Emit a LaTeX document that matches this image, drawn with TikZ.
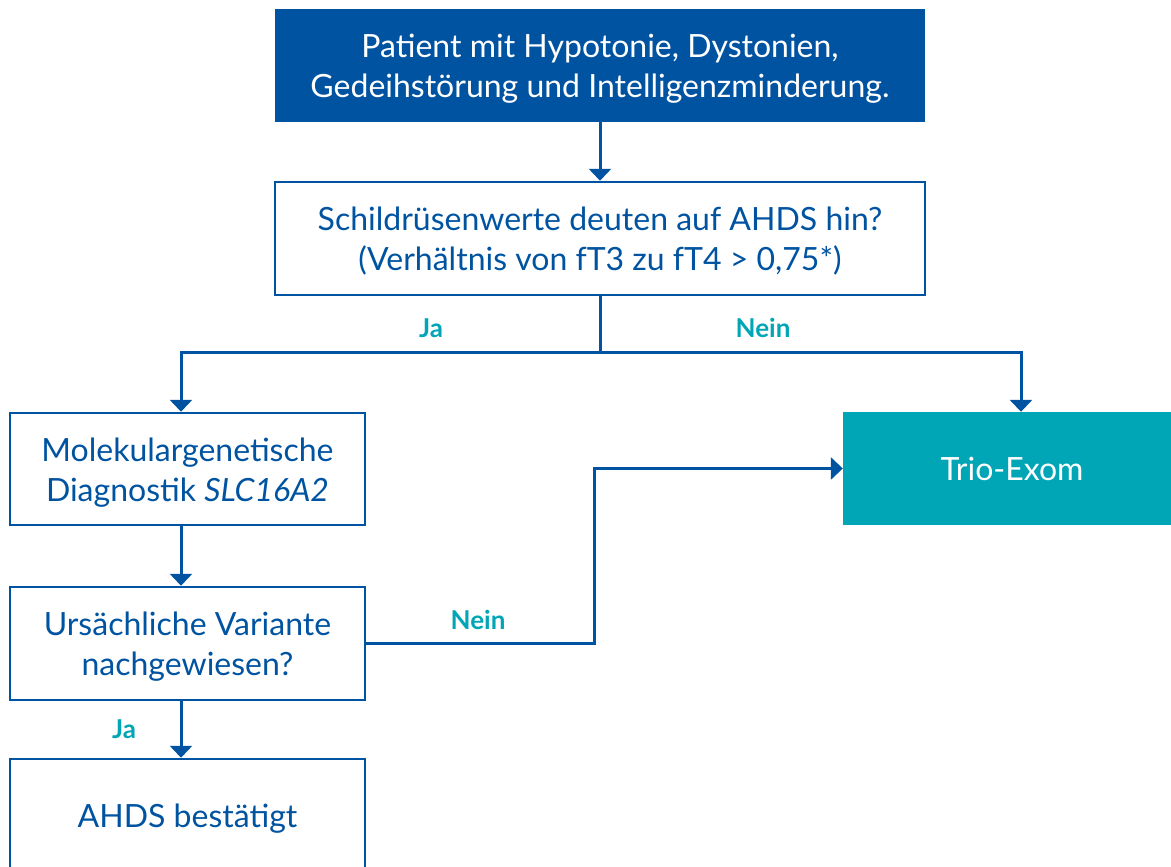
\documentclass[tikz,border=0pt]{standalone}
\usepackage{fontspec}
\setmainfont{Lato}
\usetikzlibrary{arrows.meta}
\definecolor{dblue}{HTML}{0053A0}
\definecolor{teal}{HTML}{00A6B6}
\newcommand\lowtxt[1]{\raisebox{-4pt}[\height][\depth]{\begin{tabular}{@{}c@{}}#1\end{tabular}}}
\tikzset{
  box/.style={draw=dblue, line width=2.5pt, text=dblue, minimum width=355pt, minimum height=112pt, align=center, font=\fontsize{32}{40}\selectfont, inner sep=0pt},
  filledbox/.style={fill=dblue, text=white, minimum height=113pt, align=center, font=\fontsize{32}{40}\selectfont, inner sep=0pt},
  conn/.style={draw=dblue, line width=3pt},
  arr/.style={conn, -{Triangle[width=22pt,length=12pt]}},
  lbl/.style={text=teal, font=\fontsize{26}{30}\bfseries\selectfont}
}
\begin{document}
\begin{tikzpicture}[x=1pt,y=-1pt]
\useasboundingbox (0,0) rectangle (1171,867);
\node[filledbox, minimum width=650pt] (top) at (600,65.5) {\lowtxt{Patient mit Hypotonie, Dystonien,\\Gedeihstörung und Intelligenzminderung.}};
\node[box, minimum width=650pt, minimum height=113pt] (q) at (600,238.5) {\lowtxt{Schildrüsenwerte deuten auf AHDS hin?\\(Verhältnis von fT3 zu fT4 > 0,75*)}};
\node[box] (mol) at (187.5,469) {\lowtxt{Molekulargenetische\\Diagnostik \textit{SLC16A2}}};
\node[box, minimum height=113pt] (var) at (187.5,643.5) {\lowtxt{Ursächliche Variante\\nachgewiesen?}};
\node[box, minimum height=113pt] (ok) at (187.5,815.5) {\lowtxt{AHDS bestätigt}};
\node[filledbox, fill=teal, minimum width=338pt] (trio) at (1012,468.5) {\lowtxt{Trio-Exom}};
\coordinate (split) at (600,352);
\coordinate (bend) at (594,643.5);
\coordinate (lx) at (181,0);
\coordinate (rx) at (1021,0);
\draw[arr] (top.south) -- (q.north);
\draw[conn] (q.south) -- (split);
\draw[arr] (split) -- (split -| lx) -- (mol.north -| lx);
\draw[arr] (split) -- (split -| rx) -- (trio.north -| rx);
\draw[arr] (mol.south -| lx) -- (var.north -| lx);
\draw[arr] (var.south -| lx) -- (ok.north -| lx);
\draw[arr] (var.east) -- (bend) -- (bend |- trio.west) -- (trio.west);
\node[lbl] (ja1) at (431,328) {Ja};
\node[lbl] (nein1) at (763,328) {Nein};
\node[lbl] (nein2) at (478,620) {Nein};
\node[lbl] (ja2) at (124,729) {Ja};
\end{tikzpicture}
\end{document}
